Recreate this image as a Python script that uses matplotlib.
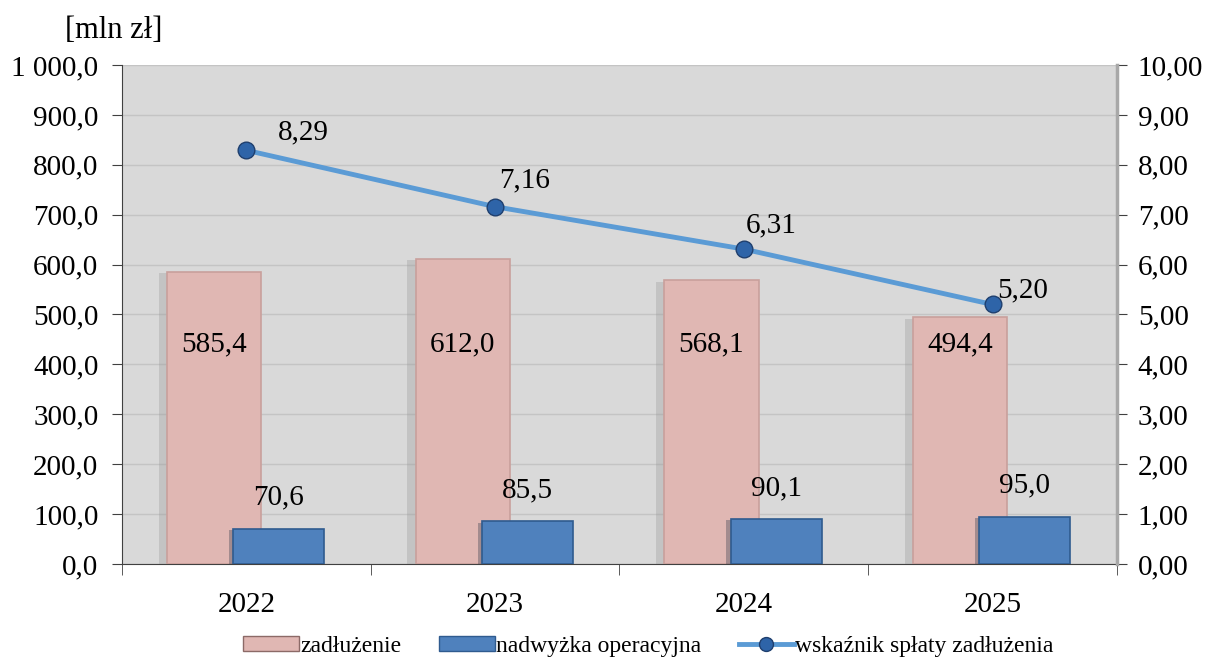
import matplotlib
matplotlib.use("Agg")
import matplotlib.pyplot as plt
import numpy as np
from matplotlib.lines import Line2D
from matplotlib.patches import Patch
import matplotlib.patheffects as pe

years = ["2022", "2023", "2024", "2025"]
zadluzenie = [585.4, 612.0, 568.1, 494.4]
nadwyzka = [70.6, 85.5, 90.1, 95.0]
wskaznik = [8.29, 7.16, 6.31, 5.20]

left_ticks = [0, 100, 200, 300, 400, 500, 600, 700, 800, 900, 1000]
right_ticks = [0, 1, 2, 3, 4, 5, 6, 7, 8, 9, 10]

def fmt_pl(v, dec):
    s = f"{v:,.{dec}f}"
    s = s.replace(",", " ").replace(".", ",")
    return s

plt.rcParams['font.family'] = ['Liberation Serif', 'DejaVu Serif']
FS = 21

fig = plt.figure(figsize=(12.1, 6.57), dpi=100)
ax = fig.add_axes([0.1008, 0.1416, 0.8223, 0.7595])
ax.set_facecolor("#D9D9D9")

x = np.arange(len(years))
pink = "#E0B7B3"
blue = "#4F81BD"

shadow = [pe.SimplePatchShadow(offset=(-6, -1), shadow_rgbFace="#9a9a9a", alpha=0.35), pe.Normal()]
b1 = ax.bar(x - 0.13, zadluzenie, width=0.378, color=pink, edgecolor="#C9A09C",
            linewidth=1.2, zorder=3, path_effects=shadow)
b2 = ax.bar(x + 0.13, nadwyzka, width=0.366, color=blue, edgecolor="#2F5B8F",
            linewidth=1.2, zorder=4, path_effects=[pe.SimplePatchShadow(offset=(-3, -1), alpha=0.3), pe.Normal()])

ax.set_xlim(-0.5, len(years) - 0.5)
ax.set_ylim(0, 1000)
ax.set_yticks(left_ticks)
ax.set_yticklabels([fmt_pl(v, 1) for v in left_ticks], fontsize=FS)
ax.yaxis.grid(True, color="#C4C4C4", linewidth=1.0, zorder=0)
ax.set_axisbelow(True)

ax.set_xticks(x)
ax.set_xticklabels(years, fontsize=FS)
ax.set_xticks(np.arange(-0.5, len(years), 1.0), minor=True)
ax.tick_params(axis='x', which='major', length=0, pad=20)
ax.tick_params(axis='x', which='minor', length=8, color="#404040", direction='out')
ax.tick_params(axis='y', length=7, color="#404040", direction='out', pad=10)

for s in ["top", "right"]:
    ax.spines[s].set_visible(False)
ax.spines["left"].set_color("#404040")
ax.spines["bottom"].set_color("#404040")

for xi, v in zip(x, zadluzenie):
    ax.text(xi - 0.13, 440, fmt_pl(v, 1), ha='center', va='center', fontsize=FS, zorder=6)
for xi, v in zip(x, nadwyzka):
    ax.text(xi + 0.13, v + 62, fmt_pl(v, 1), ha='center', va='center', fontsize=FS, zorder=6)

ax2 = ax.twinx()
ax2.set_ylim(0, 10)
ax2.set_yticks(right_ticks)
ax2.set_yticklabels([fmt_pl(v, 2) for v in right_ticks], fontsize=FS)
ax2.tick_params(axis='y', length=7, color="#404040", direction='out', pad=8)
for s in ["top", "left", "bottom"]:
    ax2.spines[s].set_visible(False)
ax2.spines["right"].set_color("#A8A8A8")
ax2.spines["right"].set_linewidth(2.5)

ax2.plot(x, wskaznik, color="#5B9BD5", linewidth=3.5, zorder=5,
         marker='o', markersize=12, markerfacecolor="#2E64A8",
         markeredgecolor="#1F3F6E", markeredgewidth=1.0)
offsets = [(0.23, 0.36), (0.12, 0.53), (0.11, 0.48), (0.12, 0.28)]
for xi, v, (dx, dy) in zip(x, wskaznik, offsets):
    ax2.text(xi + dx, v + dy, fmt_pl(v, 2), ha='center', va='center', fontsize=FS, zorder=6)

fig.text(0.094, 0.953, "[mln zł]", ha='center', va='center', fontsize=22)

handles = [
    Patch(facecolor=pink, edgecolor="#8C6A67"),
    Patch(facecolor=blue, edgecolor="#2F5B8F"),
    Line2D([0], [0], color="#5B9BD5", linewidth=3.5, marker='o', markersize=10,
           markerfacecolor="#2E64A8", markeredgecolor="#1F3F6E"),
]
labels = ["zadłużenie", "nadwyżka operacyjna", "wskaźnik spłaty zadłużenia"]
fig.legend(handles, labels, loc='center', bbox_to_anchor=(0.536, 0.016), ncol=3,
           frameon=False, fontsize=17, handlelength=2.35, handleheight=0.6,
           handletextpad=0.05, columnspacing=1.6)

fig.savefig("out.png", dpi=100)
